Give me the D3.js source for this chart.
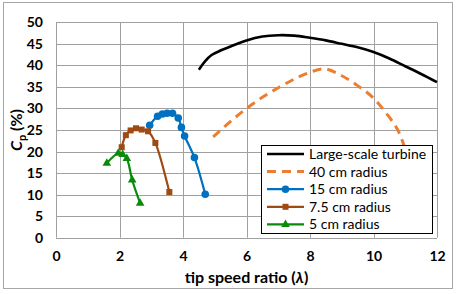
<!DOCTYPE html>
<html><head><meta charset="utf-8">
<script src="https://cdn.jsdelivr.net/npm/d3@7"></script>
<style>body{margin:0;background:#fff}svg{display:block}text{font-family:Lato,"DejaVu Sans",sans-serif}</style>
</head><body>
<script>
const xTicks = [0,2,4,6,8,10,12];
const yTicks = [0,5,10,15,20,25,30,35,40,45,50];
const seriesNames = ["Large-scale turbine","40 cm radius","15 cm radius","7.5 cm radius","5 cm radius"];
const largeScale = [[4.5,39.0],[4.7,41.0],[4.9,42.4],[5.2,43.5],[5.5,44.4],[6,45.8],[6.5,46.7],[7,47.0],[7.5,46.9],[8,46.4],[8.5,45.8],[9,45.0],[9.5,44.2],[10,43.1],[10.5,41.6],[11,39.8],[11.5,38.0],[12,36.1]];
const r40 = [[4.95,23.4],[5.5,27.0],[6,30.0],[6.5,32.6],[7,34.8],[7.5,36.8],[8,38.4],[8.45,39.2],[9,37.6],[9.5,35.3],[10,32.4],[10.4,28.9],[10.75,25.2],[11,20.5],[11.2,15.0]];
const r15 = [[2.95,26.1],[3.2,28.2],[3.35,28.7],[3.5,28.9],[3.67,28.9],[3.85,27.8],[3.95,25.6],[4.05,23.6],[4.36,18.6],[4.7,10.1]];
const r7_5 = [[2.07,21.0],[2.2,23.8],[2.35,24.9],[2.52,25.4],[2.7,25.1],[2.9,24.7],[3.13,22.0],[3.57,10.6]];
const r5 = [[1.6,17.3],[1.96,19.6],[2.1,19.3],[2.23,18.4],[2.4,13.4],[2.65,8.0]];

const W=458,H=294;
const svg=d3.select("body").append("svg").attr("width",W).attr("height",H);
svg.append("rect").attr("x",3.5).attr("y",2.5).attr("width",449).attr("height",286).attr("fill","#fff").attr("stroke","#a6a6a6");

const x=d3.scaleLinear().domain([0,12]).range([56,437]);
const y=d3.scaleLinear().domain([0,50]).range([237.7,22.3]);

const g=svg.append("g");
g.selectAll(".hg").data(yTicks).join("line").attr("x1",x(0)).attr("x2",x(12))
 .attr("y1",d=>Math.round(y(d))+0.5).attr("y2",d=>Math.round(y(d))+0.5).attr("stroke","#a0a0a0");
g.selectAll(".vg").data(xTicks).join("line").attr("y1",y(0)).attr("y2",y(50))
 .attr("x1",d=>Math.round(x(d))+0.5).attr("x2",d=>Math.round(x(d))+0.5).attr("stroke","#a0a0a0");

const ax=svg.append("g").attr("transform",`translate(0,${y(0)})`).call(d3.axisBottom(x).tickValues(xTicks).tickSize(0).tickPadding(13));
ax.select(".domain").remove();
ax.selectAll("text").attr("font-family","Lato").attr("font-weight","bold").attr("font-size",14).attr("fill","#000");
const ay=svg.append("g").attr("transform",`translate(${x(0)},0)`).call(d3.axisLeft(y).tickValues(yTicks).tickSize(0).tickPadding(13));
ay.select(".domain").remove();
ay.selectAll("text").attr("font-family","Lato").attr("font-weight","bold").attr("font-size",14).attr("fill","#000");

const lineC=d3.line().x(d=>x(d[0])).y(d=>y(d[1])).curve(d3.curveCatmullRom.alpha(0.5));

svg.append("path").datum(largeScale).attr("d",lineC).attr("fill","none").attr("stroke","#000").attr("stroke-width",2.6);
svg.append("path").datum(r40).attr("d",lineC).attr("fill","none").attr("stroke","#ED7D31").attr("stroke-width",3).attr("stroke-dasharray","9,6");

const blue="#0070C0",brown="#9E4A12",green="#0A8A0A";
svg.append("path").datum(r15).attr("d",lineC).attr("fill","none").attr("stroke",blue).attr("stroke-width",2.2);
svg.selectAll(".c15").data(r15).join("circle").attr("cx",d=>x(d[0])).attr("cy",d=>y(d[1])).attr("r",3.8).attr("fill",blue);
svg.append("path").datum(r7_5).attr("d",lineC).attr("fill","none").attr("stroke",brown).attr("stroke-width",2.2);
svg.selectAll(".s75").data(r7_5).join("rect").attr("x",d=>x(d[0])-3).attr("y",d=>y(d[1])-3).attr("width",6).attr("height",6).attr("fill",brown);
svg.append("path").datum(r5).attr("d",lineC).attr("fill","none").attr("stroke",green).attr("stroke-width",2.2);
const tri=d3.symbol().type(d3.symbolTriangle).size(32);
svg.selectAll(".t5").data(r5).join("path").attr("d",tri).attr("transform",d=>`translate(${x(d[0])},${y(d[1])})`).attr("fill",green);

svg.append("text").attr("x",(x(0)+x(12))/2).attr("y",283).attr("text-anchor","middle")
 .attr("font-weight","bold").attr("font-size",16).html('tip speed ratio (<tspan font-style="italic">λ</tspan>)');
const yt=svg.append("text").attr("transform",`translate(22,${(y(0)+y(50))/2}) rotate(-90)`).attr("text-anchor","middle")
 .attr("font-weight","bold").attr("font-size",16);
yt.append("tspan").attr("font-style","italic").text("C");
yt.append("tspan").attr("font-size",11).attr("dy",4).text("p");
yt.append("tspan").attr("dy",-4).text(" (%)");

const lg=svg.append("g");
lg.append("rect").attr("x",261.5).attr("y",145.5).attr("width",171).attr("height",88).attr("fill","#fff").attr("stroke","#000").attr("stroke-width",1);
const styles=[{c:"#000",w:2.6,dash:null,m:null},{c:"#ED7D31",w:3,dash:"9,6",m:null},{c:blue,w:2.2,dash:null,m:"circle"},{c:brown,w:2.2,dash:null,m:"square"},{c:green,w:2.2,dash:null,m:"tri"}];
seriesNames.forEach((n,i)=>{
  const cy=154+i*17.6, s=styles[i];
  lg.append("line").attr("x1",267).attr("x2",304).attr("y1",cy).attr("y2",cy).attr("stroke",s.c).attr("stroke-width",s.w).attr("stroke-dasharray",s.dash);
  if(s.m==="circle") lg.append("circle").attr("cx",285.5).attr("cy",cy).attr("r",3.8).attr("fill",s.c);
  if(s.m==="square") lg.append("rect").attr("x",282.5).attr("y",cy-3).attr("width",6).attr("height",6).attr("fill",s.c);
  if(s.m==="tri") lg.append("path").attr("d",tri).attr("transform",`translate(285.5,${cy})`).attr("fill",s.c);
  lg.append("text").attr("x",309).attr("y",cy+5).attr("font-size",14).attr("fill","#000").text(n);
});
</script>
</body></html>
